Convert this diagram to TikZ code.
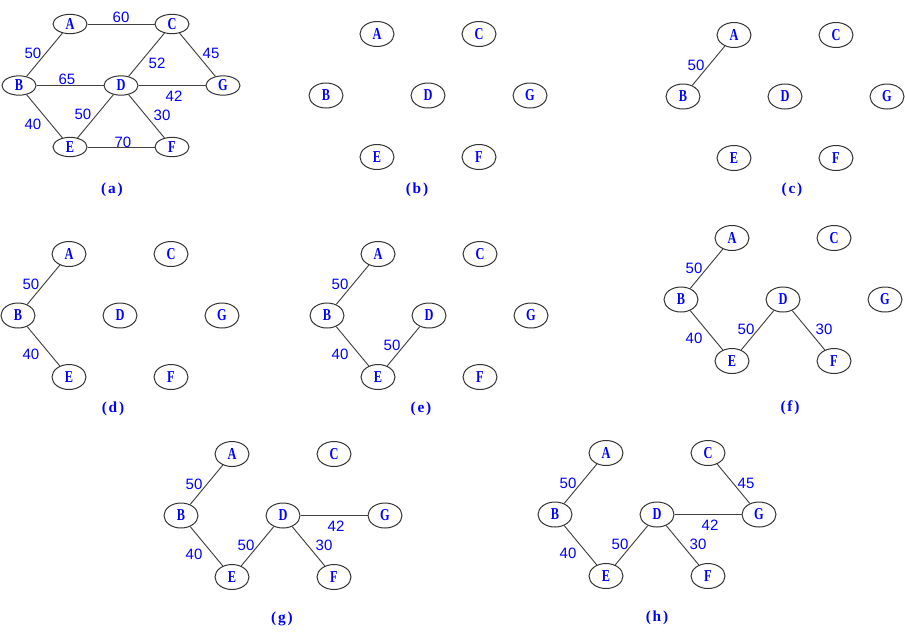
\documentclass[tikz,border=0pt]{standalone}
\usepackage{fontspec}
\usetikzlibrary{shapes.geometric}
\newfontfamily\lettfam[FakeStretch=0.74]{Liberation Serif}
\newfontfamily\numfam{Liberation Sans}
\newfontfamily\capfam[LetterSpace=12]{Liberation Serif}
\definecolor{lblue}{RGB}{0,0,255}
\tikzset{
  vtx/.style={ellipse, draw=black!80, line width=0.75pt, minimum width=25.5pt,
    minimum height=18.75pt, inner sep=0pt, text=lblue,
    font=\lettfam\bfseries\fontsize{12.5}{13}\selectfont},
  vsmall/.style={minimum height=14.5pt},
  wt/.style={text=lblue, inner sep=0pt, font=\numfam\fontsize{11.25}{12}\selectfont},
  capt/.style={text=lblue, inner sep=0pt, font=\capfam\bfseries\fontsize{11.5}{12}\selectfont},
  edge/.style={draw=black!75, line width=0.7pt},
}
% #1 prefix, #2 extra vertex style, #3 caption text, #4,#5 caption offset
\newcommand{\mkpanel}[5]{%
  \node[vtx,#2] (#1A) at (0,0) {A};
  \node[vtx,#2] (#1C) at (102,0) {C};
  \node[vtx,#2] (#1B) at (-51,61.5) {B};
  \node[vtx,#2] (#1D) at (51,61.5) {D};
  \node[vtx,#2] (#1G) at (153,61.5) {G};
  \node[vtx,#2] (#1E) at (0,123) {E};
  \node[vtx,#2] (#1F) at (102,123) {F};
  \node[capt] (#1cap) at (#4,#5) {#3};
}
\begin{document}
\begin{tikzpicture}[x=0.75pt,y=-0.75pt]
\useasboundingbox (0,0) rectangle (905,637);
% (a)
\begin{scope}[shift={(70,24)}]
  \mkpanel{a}{vsmall}{(a)}{42}{166}
  \draw[edge] (aA) -- (aC);
  \draw[edge] (aA) -- (aB);
  \draw[edge] (aC) -- (aD);
  \draw[edge] (aC) -- (aG);
  \draw[edge] (aB) -- (aD);
  \draw[edge] (aD) -- (aG);
  \draw[edge] (aB) -- (aE);
  \draw[edge] (aD) -- (aE);
  \draw[edge] (aD) -- (aF);
  \draw[edge] (aE) -- (aF);
  \node[wt] (aw1) at (51,-7) {60};
  \node[wt] (aw2) at (-37,29) {50};
  \node[wt] (aw3) at (87,39) {52};
  \node[wt] (aw4) at (141,29) {45};
  \node[wt] (aw5) at (-3,55) {65};
  \node[wt] (aw6) at (104,72) {42};
  \node[wt] (aw7) at (-37,100) {40};
  \node[wt] (aw8) at (13,90) {50};
  \node[wt] (aw9) at (92,91) {30};
  \node[wt] (aw10) at (53,118) {70};
\end{scope}
% (b)
\begin{scope}[shift={(377,34)}]
  \mkpanel{b}{}{(b)}{40}{156}
\end{scope}
% (c)
\begin{scope}[shift={(734,35)}]
  \mkpanel{c}{}{(c)}{58}{155}
  \draw[edge] (cA) -- (cB);
  \node[wt] (cw1) at (-38,30) {50};
\end{scope}
% (d)
\begin{scope}[shift={(69,254)}]
  \mkpanel{d}{}{(d)}{44}{155}
  \draw[edge] (dA) -- (dB);
  \draw[edge] (dB) -- (dE);
  \node[wt] (dw1) at (-38,30) {50};
  \node[wt] (dw2) at (-38,100) {40};
\end{scope}
% (e)
\begin{scope}[shift={(378,254)}]
  \mkpanel{e}{}{(e)}{43}{155}
  \draw[edge] (eA) -- (eB);
  \draw[edge] (eB) -- (eE);
  \draw[edge] (eD) -- (eE);
  \node[wt] (ew1) at (-38,30) {50};
  \node[wt] (ew2) at (-38,100) {40};
  \node[wt] (ew3) at (14,91) {50};
\end{scope}
% (f)
\begin{scope}[shift={(732,238)}]
  \mkpanel{f}{}{(f)}{58}{170}
  \draw[edge] (fA) -- (fB);
  \draw[edge] (fB) -- (fE);
  \draw[edge] (fD) -- (fE);
  \draw[edge] (fD) -- (fF);
  \node[wt] (fw1) at (-38,30) {50};
  \node[wt] (fw2) at (-38,100) {40};
  \node[wt] (fw3) at (14,91) {50};
  \node[wt] (fw4) at (92,91) {30};
\end{scope}
% (g)
\begin{scope}[shift={(232,454)}]
  \mkpanel{g}{}{(g)}{50}{165}
  \draw[edge] (gA) -- (gB);
  \draw[edge] (gB) -- (gE);
  \draw[edge] (gD) -- (gE);
  \draw[edge] (gD) -- (gF);
  \draw[edge] (gD) -- (gG);
  \node[wt] (gw1) at (-38,30) {50};
  \node[wt] (gw2) at (-38,100) {40};
  \node[wt] (gw3) at (14,91) {50};
  \node[wt] (gw4) at (92,91) {30};
  \node[wt] (gw5) at (104,72) {42};
\end{scope}
% (h)
\begin{scope}[shift={(606,453)}]
  \mkpanel{h}{}{(h)}{51}{165}
  \draw[edge] (hA) -- (hB);
  \draw[edge] (hB) -- (hE);
  \draw[edge] (hD) -- (hE);
  \draw[edge] (hD) -- (hF);
  \draw[edge] (hD) -- (hG);
  \draw[edge] (hC) -- (hG);
  \node[wt] (hw1) at (-38,30) {50};
  \node[wt] (hw2) at (-38,100) {40};
  \node[wt] (hw3) at (14,91) {50};
  \node[wt] (hw4) at (92,91) {30};
  \node[wt] (hw5) at (104,72) {42};
  \node[wt] (hw6) at (140,30) {45};
\end{scope}
\end{tikzpicture}
\end{document}
